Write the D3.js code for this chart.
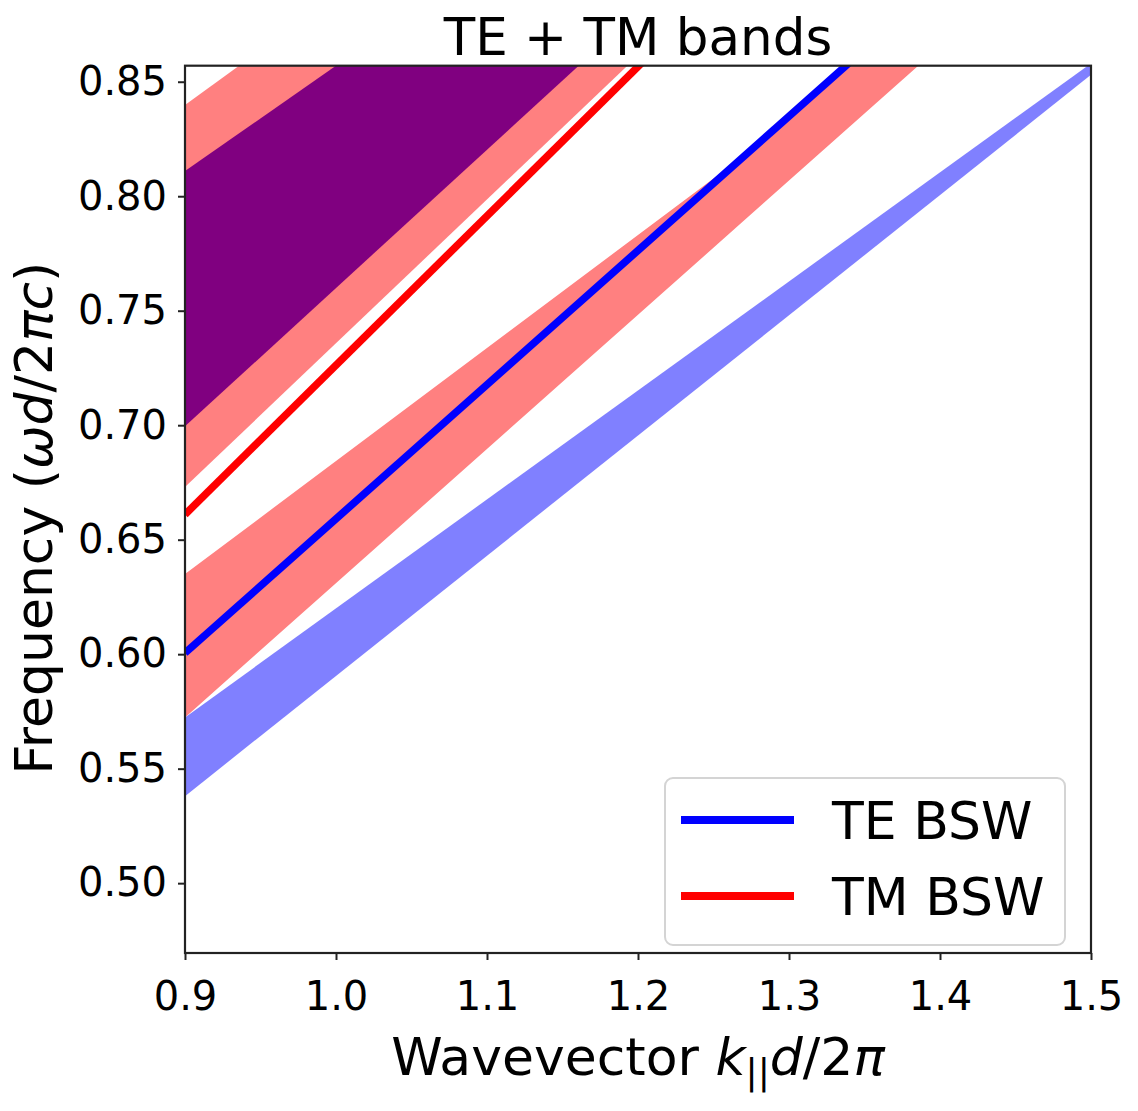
<!DOCTYPE html>
<html>
<head>
<meta charset="utf-8">
<script src="https://cdn.jsdelivr.net/npm/d3@7"></script>
<style>
  html, body { margin: 0; padding: 0; background: #ffffff; }
  svg { display: block; font-family: "DejaVu Sans", sans-serif; }
</style>
</head>
<body>
<svg id="chart" width="1138" height="1111"></svg>
<script>
// ---------- data ----------
const kEdges = [0.9, 1.5];                 // wavevector samples at plot edges
const tmBand1Lower = [0.673, 1.0498];      // upper-left TM band (pink)
const tmBand1Upper = [0.8398, 1.1278];
const overlapLower = [0.6995, 1.0619];     // TE/TM overlap (purple)
const overlapUpper = [0.811, 1.087];
const tmBand2K = [0.9, 1.273, 1.5];        // TM band around TE BSW line
const tmBand2Lower = [0.5724, 0.791, 0.924];
const tmBand2Upper = [0.635, 0.8191, 0.9521];
const teBand2Lower = [0.538, 0.853];       // TE band (light blue)
const teBand2Upper = [0.5724, 0.858];
const teBSW = [0.6005, 0.9521];            // TE Bloch surface wave
const tmBSW = [0.661, 1.0522];             // TM Bloch surface wave
const xTicks = [0.9, 1.0, 1.1, 1.2, 1.3, 1.4, 1.5];
const yTicks = [0.50, 0.55, 0.60, 0.65, 0.70, 0.75, 0.80, 0.85];
const legendLabels = ["TE BSW", "TM BSW"];
const legendColors = ["#0000ff", "#ff0000"];
const titleText = "TE + TM bands";

// ---------- layout ----------
const L = 185, R = 1091, T = 65.7, B = 953;
const svg = d3.select("#chart");
const x = d3.scaleLinear().domain([0.9, 1.5]).range([L, R]);
const y = d3.scaleLinear().domain([0.4695, 0.857]).range([B, T]);

svg.append("defs").append("clipPath").attr("id", "plotclip")
  .append("rect").attr("x", L).attr("y", T).attr("width", R - L).attr("height", B - T);

const plot = svg.append("g").attr("clip-path", "url(#plotclip)");

function band(ks, lo, hi) {
  return ks.map((k, i) => ({k: k, lo: lo[i], hi: hi[i]}));
}
const area = d3.area().x(d => x(d.k)).y0(d => y(d.lo)).y1(d => y(d.hi));
const line = d3.line().x(d => x(d.k)).y(d => y(d.v));

plot.append("path").datum(band(kEdges, tmBand1Lower, tmBand1Upper))
  .attr("d", area).attr("fill", "#ff8080");
plot.append("path").datum(band(kEdges, overlapLower, overlapUpper))
  .attr("d", area).attr("fill", "#800080");
plot.append("path").datum(band(tmBand2K, tmBand2Lower, tmBand2Upper))
  .attr("d", area).attr("fill", "#ff8080");
plot.append("path").datum(band(kEdges, teBand2Lower, teBand2Upper))
  .attr("d", area).attr("fill", "#8080ff");

plot.append("path").datum(kEdges.map((k, i) => ({k: k, v: tmBSW[i]})))
  .attr("d", line).attr("fill", "none").attr("stroke", "#ff0000").attr("stroke-width", 7.5);
plot.append("path").datum(kEdges.map((k, i) => ({k: k, v: teBSW[i]})))
  .attr("d", line).attr("fill", "none").attr("stroke", "#0000ff").attr("stroke-width", 7.5);

// ---------- axes ----------
const axisColor = "#222222";
const xAxis = svg.append("g").attr("transform", `translate(0,${B})`)
  .call(d3.axisBottom(x).tickValues(xTicks).tickFormat(d3.format(".1f")).tickSize(7).tickPadding(22));
const yAxis = svg.append("g").attr("transform", `translate(${L},0)`)
  .call(d3.axisLeft(y).tickValues(yTicks).tickFormat(d3.format(".2f")).tickSize(7).tickPadding(11));
[xAxis, yAxis].forEach(g => {
  g.select(".domain").remove();
  g.selectAll(".tick line").attr("stroke", axisColor).attr("stroke-width", 2);
  g.selectAll(".tick text").attr("fill", "#000").style("font-size", "40px")
    .style("font-family", "'DejaVu Sans', sans-serif");
});

svg.append("rect").attr("x", L).attr("y", T).attr("width", R - L).attr("height", B - T)
  .attr("fill", "none").attr("stroke", axisColor).attr("stroke-width", 2.2);

// ---------- title & labels ----------
svg.append("text").attr("x", (L + R) / 2).attr("y", 55).attr("text-anchor", "middle")
  .style("font-size", "51.5px").text(titleText);

const xl = svg.append("text").attr("x", (L + R) / 2).attr("y", 1075).attr("text-anchor", "middle")
  .style("font-size", "52px");
xl.append("tspan").text("Wavevector ");
xl.append("tspan").attr("font-style", "italic").text("k");
xl.append("tspan").attr("dy", 9).style("font-size", "36px").text("||");
xl.append("tspan").attr("dy", -9).attr("font-style", "italic").text("d");
xl.append("tspan").text("/2");
xl.append("tspan").attr("font-style", "italic").text("π");

const yl = svg.append("text").attr("transform", `translate(52,518) rotate(-90)`)
  .attr("text-anchor", "middle").style("font-size", "52px");
yl.append("tspan").text("Frequency (");
yl.append("tspan").attr("font-style", "italic").text("ωd");
yl.append("tspan").text("/2");
yl.append("tspan").attr("font-style", "italic").text("πc");
yl.append("tspan").text(")");

// ---------- legend ----------
const lg = svg.append("g");
lg.append("rect").attr("x", 665).attr("y", 778).attr("width", 400).attr("height", 167)
  .attr("rx", 8).attr("fill", "#ffffff").attr("fill-opacity", 0.8)
  .attr("stroke", "#d4d4d4").attr("stroke-width", 2);
legendLabels.forEach((lab, i) => {
  const cy = 820 + i * 76;
  lg.append("line").attr("x1", 681).attr("x2", 794).attr("y1", cy).attr("y2", cy)
    .attr("stroke", legendColors[i]).attr("stroke-width", 8);
  lg.append("text").attr("x", 832).attr("y", cy + 19).style("font-size", "52px").text(lab);
});
</script>
</body>
</html>
